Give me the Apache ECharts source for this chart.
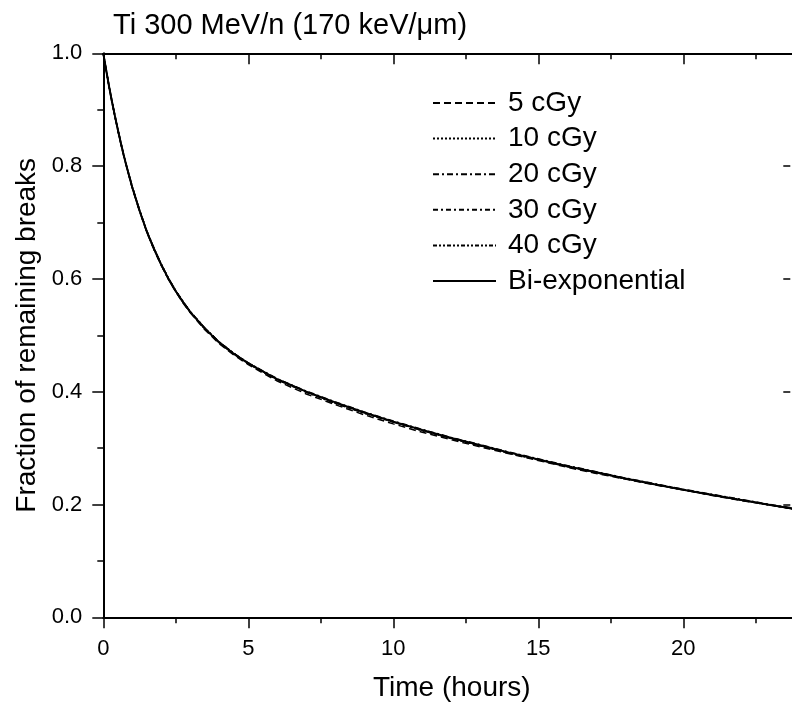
<!DOCTYPE html>
<html>
<head>
<meta charset="utf-8">
<script src="https://cdn.jsdelivr.net/npm/echarts@6/dist/echarts.min.js"></script>
<style>
html,body{margin:0;padding:0;background:#fff;}
#chart{width:792px;height:706px;}
</style>
</head>
<body>
<div id="chart"></div>
<script>
const titleText = 'Ti 300 MeV/n (170 keV/\u03bcm)';
const xTitle = 'Time (hours)';
const yTitle = 'Fraction of remaining breaks';
const seriesNames = ['5 cGy', '10 cGy', '20 cGy', '30 cGy', '40 cGy', 'Bi-exponential'];

const times = [0,0.1,0.2,0.3,0.4,0.5,0.6,0.7,0.8,0.9,1,1.25,1.5,1.75,2,2.25,2.5,2.75,3,3.5,4,4.5,5,5.5,6,7,8,9,10,11,12,13,14,15,16,17,18,19,20,21,22,23,24];

const d5   = [1.000,0.970,0.941,0.914,0.888,0.864,0.841,0.819,0.799,0.780,0.761,0.720,0.683,0.652,0.624,0.599,0.577,0.557,0.540,0.510,0.485,0.465,0.448,0.433,0.419,0.396,0.377,0.359,0.343,0.328,0.315,0.302,0.290,0.278,0.266,0.255,0.245,0.235,0.226,0.216,0.207,0.199,0.190];
const d10  = [1.000,0.971,0.942,0.915,0.890,0.866,0.843,0.821,0.801,0.782,0.763,0.722,0.685,0.654,0.626,0.601,0.579,0.560,0.542,0.513,0.488,0.468,0.451,0.436,0.422,0.400,0.380,0.362,0.346,0.331,0.317,0.304,0.291,0.279,0.268,0.257,0.246,0.236,0.226,0.217,0.208,0.199,0.191];
const d20  = [1.000,0.970,0.941,0.914,0.889,0.865,0.842,0.821,0.801,0.782,0.763,0.722,0.685,0.654,0.626,0.601,0.579,0.560,0.542,0.513,0.488,0.468,0.451,0.437,0.423,0.401,0.382,0.364,0.348,0.333,0.319,0.306,0.293,0.281,0.269,0.258,0.247,0.237,0.227,0.218,0.209,0.200,0.192];
const d30  = [1.000,0.969,0.940,0.913,0.888,0.864,0.842,0.820,0.800,0.781,0.762,0.721,0.684,0.653,0.625,0.600,0.578,0.558,0.541,0.511,0.487,0.467,0.450,0.435,0.421,0.399,0.379,0.362,0.346,0.331,0.317,0.304,0.291,0.279,0.267,0.256,0.246,0.236,0.226,0.217,0.208,0.199,0.190];
const d40  = [1.000,0.970,0.941,0.914,0.889,0.865,0.842,0.820,0.800,0.781,0.763,0.721,0.684,0.652,0.624,0.599,0.578,0.559,0.541,0.512,0.488,0.468,0.451,0.436,0.422,0.400,0.380,0.363,0.347,0.332,0.318,0.305,0.292,0.280,0.268,0.257,0.246,0.236,0.226,0.217,0.208,0.199,0.191];
const biexp = [1.000,0.970,0.941,0.914,0.889,0.865,0.842,0.820,0.800,0.781,0.762,0.721,0.684,0.653,0.625,0.600,0.578,0.559,0.541,0.512,0.487,0.467,0.450,0.436,0.422,0.400,0.381,0.363,0.347,0.332,0.318,0.305,0.292,0.280,0.268,0.257,0.246,0.236,0.226,0.217,0.208,0.199,0.191];

const allValues = [d5, d10, d20, d30, d40, biexp];
const dashTypes = [[7,4],[2,2],[6,3,2,3],[5,3,2,3],[4,2,2,2,2,2],'solid'];
const widths = [1.5,1.5,1.5,1.5,1.5,2];

const FONT = 'Liberation Sans, Arial, sans-serif';
const chart = echarts.init(document.getElementById('chart'), null, {renderer:'canvas'});

const series = seriesNames.map((name, i) => ({
  name: name,
  type: 'line',
  xAxisIndex: 0,
  yAxisIndex: 0,
  showSymbol: false,
  symbol: 'none',
  smooth: false,
  data: times.map((t, j) => [t, allValues[i][j]]),
  lineStyle: {color: '#000', width: widths[i], type: dashTypes[i]},
  itemStyle: {color: '#000'},
  z: i === 5 ? 3 : 2,
  animation: false
}));

const axisCommon = {
  axisLine: {show: true, onZero: false, lineStyle: {color: '#000', width: 2}},
  splitLine: {show: false}
};

chart.setOption({
  backgroundColor: '#fff',
  animation: false,
  title: {
    text: titleText,
    left: 113, top: 11, padding: 0,
    textStyle: {fontFamily: FONT, fontSize: 29, fontWeight: 'normal', color: '#000'}
  },
  legend: {
    orient: 'vertical',
    left: 432, top: 89, padding: 0,
    itemWidth: 63, itemHeight: 14, itemGap: 7.6,
    data: seriesNames,
    itemStyle: {opacity: 0},
    textStyle: {fontFamily: FONT, fontSize: 28, lineHeight: 28, color: '#000', padding: [0,0,0,7]},
    selectedMode: false
  },
  grid: {left: 103.3, top: 53.3, bottom: 88.7, right: -36.3, containLabel: false, outerBoundsMode: 'none'},
  xAxis: [
    Object.assign({}, axisCommon, {
      type: 'value', position: 'bottom', min: 0, max: 25, interval: 5,
      name: xTitle, nameLocation: 'middle', nameGap: 57,
      nameTextStyle: {fontFamily: FONT, fontSize: 28, color: '#000', padding: [0, 28, 0, 0]},
      axisTick: {show: true, inside: false, length: 11, lineStyle: {color: '#000', width: 1.5}},
      minorTick: {show: true, splitNumber: 2, length: 6, lineStyle: {color: '#000', width: 1.5}},
      axisLabel: {show: true, margin: 21, fontFamily: FONT, fontSize: 22, color: '#000'}
    }),
    Object.assign({}, axisCommon, {
      type: 'value', position: 'top', min: 0, max: 25, interval: 5,
      axisTick: {show: true, inside: true, length: 11, lineStyle: {color: '#000', width: 1.5}},
      minorTick: {show: true, splitNumber: 2, length: 6, lineStyle: {color: '#000', width: 1.5}},
      axisLabel: {show: false}
    })
  ],
  yAxis: [
    Object.assign({}, axisCommon, {
      type: 'value', position: 'left', min: 0, max: 1, interval: 0.2,
      name: yTitle, nameLocation: 'middle', nameGap: 58,
      nameTextStyle: {fontFamily: FONT, fontSize: 28, color: '#000'},
      axisTick: {show: true, inside: false, length: 11, lineStyle: {color: '#000', width: 1.5}},
      minorTick: {show: true, splitNumber: 2, length: 6, lineStyle: {color: '#000', width: 1.5}},
      axisLabel: {show: true, margin: 21, fontFamily: FONT, fontSize: 22, color: '#000',
        formatter: v => v.toFixed(1)}
    }),
    {
      type: 'value', position: 'right', offset: -38, min: 0, max: 1, interval: 0.2,
      axisLine: {show: false, onZero: false},
      splitLine: {show: false},
      axisTick: {show: true, inside: true, length: 7, lineStyle: {color: '#000', width: 1.5}},
      minorTick: {show: false},
      axisLabel: {show: false}
    }
  ],
  series: series
});
</script>
</body>
</html>
